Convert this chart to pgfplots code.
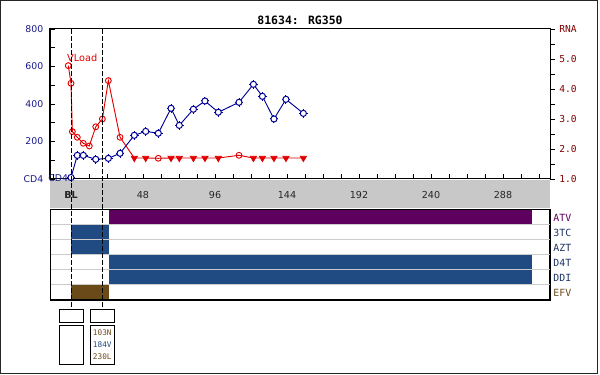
\documentclass[border=0pt]{standalone}
\usepackage{pgfplots}
\pgfplotsset{compat=1.18}
\usepackage{fontspec}
\setmainfont{DejaVu Sans}
\newfontfamily\mono{DejaVu Sans Mono}
\definecolor{cdblue}{RGB}{0,0,150}
\definecolor{labnavy}{RGB}{25,25,140}
\definecolor{vred}{RGB}{225,0,0}
\definecolor{maroon}{RGB}{128,0,0}
\definecolor{gband}{RGB}{200,200,200}
\definecolor{atvpurple}{RGB}{94,0,94}
\definecolor{barblue}{RGB}{31,74,130}
\definecolor{efvbrown}{RGB}{107,74,26}
\definecolor{drugnavy}{RGB}{30,50,100}
\pgfdeclareplotmark{spoke}{%
  \pgfpathmoveto{\pgfpoint{-1.4\pgfplotmarksize}{0pt}}\pgfpathlineto{\pgfpoint{1.4\pgfplotmarksize}{0pt}}%
  \pgfpathmoveto{\pgfpoint{0pt}{-1.4\pgfplotmarksize}}\pgfpathlineto{\pgfpoint{0pt}{1.4\pgfplotmarksize}}%
  \pgfusepathqstroke
  \pgfpathcircle{\pgfpointorigin}{\pgfplotmarksize}%
  \pgfusepathqfillstroke
}
\pgfplotstableread{
x cd4
0 8
4.2 126
8.2 126
16.5 105
24.9 110
32.7 137
42.2 233
49.8 254
58.2 244
66.7 377
72.2 286
81.6 372
89.3 416
98.2 356
112 409
121.6 505
127.6 441
135.3 320
143.3 425
154.9 350
}\cdtable
\pgfplotstableread{
x rna c
-1.8 4.78 d
0 4.19 d
0.9 2.58 d
4.2 2.39 d
8.2 2.19 d
12.2 2.10 d
16.5 2.74 d
20.9 3.00 d
24.9 4.28 d
32.7 2.39 d
42.2 1.70 u
49.8 1.70 u
58.2 1.69 d
66.7 1.70 u
72.2 1.70 u
81.6 1.70 u
89.3 1.70 u
98.2 1.70 u
112 1.79 d
121.6 1.70 u
127.6 1.70 u
135.3 1.70 u
143.3 1.70 u
154.9 1.70 u
}\vltable
\begin{document}
\begin{tikzpicture}[x=1pt,y=1pt]
\useasboundingbox (0,0) rectangle (450,281.25);
\fill[gband] (37.5,125.25) rectangle (412.5,146.25);
% upper axis: CD4
\begin{axis}[
  at={(37.5pt,147pt)}, anchor=south west, scale only axis,
  width=375pt, height=112.5pt,
  xmin=-14, xmax=319.33, ymin=0, ymax=800,
  axis line style={black, line width=0.75pt},
  xtick={0,48,96,144,192,240,288},
  xticklabels={\textbf{BL},48,96,144,192,240,288},
  minor xtick={-12,12,24,36,60,72,84,108,120,132,156,168,180,204,216,228,252,264,276,300,312},
  xtick pos=bottom, ytick pos=left, tick align=inside,
  major tick length=4pt, minor tick length=4pt,
  tick style={black, line width=0.6pt},
  ytick={0,200,400,600,800}, yticklabels={CD4,200,400,600,800},
  minor ytick={100,300,500,700},
  yticklabel style={text=labnavy, font=\fontsize{7}{8}\selectfont, xshift=-1.5pt},
  xticklabel style={text=black!85, font=\fontsize{7.2}{8}\selectfont, yshift=-5.5pt},
  clip=false,
]
\addplot[cdblue, line width=0.7pt, mark=spoke, mark size=2.3pt, mark options={fill=white, line width=0.75pt, solid}] table[x=x, y=cd4] {\cdtable};
\node[anchor=east, inner sep=0.5pt, text=labnavy, font=\fontsize{7}{8}\selectfont] at (axis cs:-1.3,6) {CD4};
\end{axis}
% upper axis: RNA (right)
\begin{axis}[
  at={(37.5pt,147pt)}, anchor=south west, scale only axis,
  width=375pt, height=112.5pt,
  xmin=-14, xmax=319.33, ymin=1, ymax=6,
  axis y line*=right, axis x line=none,
  axis line style={black, line width=0.75pt},
  ytick={1,2,3,4,5,6}, yticklabels={1.0,2.0,3.0,4.0,5.0,RNA},
  minor ytick={1.5,2.5,3.5,4.5,5.5},
  tick align=outside, major tick length=3.5pt, minor tick length=3.5pt,
  tick style={black, line width=0.6pt},
  yticklabel style={text=maroon, font=\mono\fontsize{7.2}{8}\selectfont},
  clip=false,
]
\addplot[vred, line width=0.7pt, scatter, scatter src=explicit symbolic,
  scatter/classes={
    d={mark=o, draw=vred, mark size=2.2pt, line width=0.7pt},
    u={mark=triangle*, draw=vred, fill=vred, mark size=2.6pt, rotate=180}
  }] table[x=x, y=rna, meta=c] {\vltable};
\node[anchor=base west, inner sep=0pt, text=vred, font=\fontsize{7.3}{8}\selectfont] at (axis cs:-2.7,4.93) {VLoad};
\end{axis}
% lower axis: drugs
\begin{axis}[
  at={(37.5pt,56.25pt)}, anchor=south west, scale only axis,
  width=375pt, height=67.5pt,
  xmin=-14, xmax=319.33, ymin=0, ymax=6,
  xtick=\empty,
  ytick={0.5,1.5,2.5,3.5,4.5,5.5},
  yticklabels={\textcolor{efvbrown}{EFV},\textcolor{drugnavy}{DDI},\textcolor{drugnavy}{D4T},\textcolor{drugnavy}{AZT},\textcolor{drugnavy}{3TC},\textcolor{atvpurple}{ATV}},
  yticklabel pos=right, major tick length=0pt, minor tick length=0pt,
  minor ytick={1,2,3,4,5}, yminorgrids,
  minor grid style={gray!40, line width=0.75pt},
  axis on top,
  axis line style={black, line width=0.75pt},
  yticklabel style={font=\mono\fontsize{7.4}{8}\selectfont, xshift=-1pt},
]
\addplot[fill=atvpurple, draw=none] coordinates {(25,5) (307,5) (307,6) (25,6)};
\addplot[fill=barblue, draw=none] coordinates {(0,4) (25.3,4) (25.3,5) (0,5)};
\addplot[fill=barblue, draw=none] coordinates {(0,3) (25.3,3) (25.3,4) (0,4)};
\addplot[fill=barblue, draw=none] coordinates {(25,2) (307,2) (307,3) (25,3)};
\addplot[fill=barblue, draw=none] coordinates {(25,1) (307,1) (307,2) (25,2)};
\addplot[fill=efvbrown, draw=none] coordinates {(0,0) (25.3,0) (25.3,1) (0,1)};
\draw[line width=1.5pt] (rel axis cs:0,0) -- (rel axis cs:1,0) -- (rel axis cs:1,1);
\end{axis}
% dashed reference lines
\draw[line width=0.75pt, dash pattern=on 3.75pt off 1.5pt] (53.25,259.5) -- (53.25,49.3);
\draw[line width=0.75pt, dash pattern=on 3.75pt off 1.5pt] (76.9,259.5) -- (76.9,49.3);
% boxes
\draw[line width=0.75pt] (44.5,39.5) rectangle (62.5,49.3);
\draw[line width=0.75pt] (67.7,39.5) rectangle (85.7,49.3);
\draw[line width=0.75pt] (44.5,8.0) rectangle (62.5,37.3);
\draw[line width=0.75pt] (67.7,8.0) rectangle (85.7,37.3);
\node[font=\mono\fontsize{5.8}{6}\selectfont, text=efvbrown] at (76.7,31.5) {103N};
\node[font=\mono\fontsize{5.8}{6}\selectfont, text=barblue] at (76.7,22.5) {184V};
\node[font=\mono\fontsize{5.8}{6}\selectfont, text=efvbrown] at (76.7,13.5) {230L};
% title
\node[font=\mono\bfseries\fontsize{8.6}{10}\selectfont] at (225,266.25) {81634: RG350};
% outer border
\draw[line width=0.75pt, black!85] (0.375,0.94) rectangle (448.1,280.9);
\end{tikzpicture}
\end{document}
